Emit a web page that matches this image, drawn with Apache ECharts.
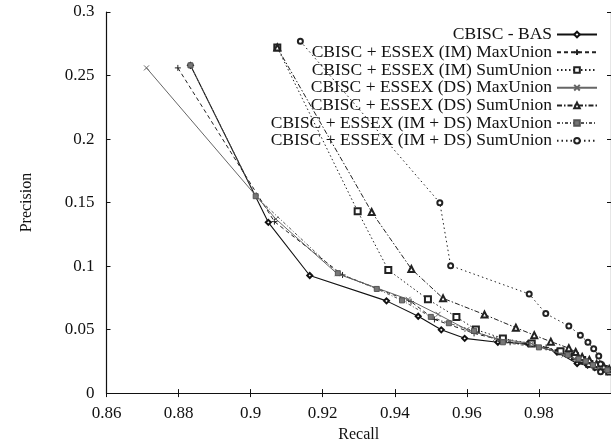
<!DOCTYPE html>
<html>
<head>
<meta charset="utf-8">
<script src="https://cdn.jsdelivr.net/npm/echarts@6/dist/echarts.min.js"></script>
<style>html,body{margin:0;padding:0;background:#fff}#c{width:611px;height:448px}</style>
</head>
<body>
<div id="c"></div>
<script>
const seriesNames = [
  'CBISC - BAS',
  'CBISC + ESSEX (IM) MaxUnion',
  'CBISC + ESSEX (IM) SumUnion',
  'CBISC + ESSEX (DS) MaxUnion',
  'CBISC + ESSEX (DS) SumUnion',
  'CBISC + ESSEX (IM + DS) MaxUnion',
  'CBISC + ESSEX (IM + DS) SumUnion'
];
const xTicks = [0.86, 0.88, 0.9, 0.92, 0.94, 0.96, 0.98, 1.0];
const yTicks = [0, 0.05, 0.1, 0.15, 0.2, 0.25, 0.3];

const basData = [[0.8833,0.258],[0.9049,0.1344],[0.9164,0.0926],[0.9377,0.0726],[0.9465,0.0605],[0.9529,0.0498],[0.9594,0.0431],[0.9686,0.040],[0.977,0.039],[0.985,0.0323],[0.9906,0.0233],[0.9935,0.022],[0.9955,0.020],[0.9975,0.018],[0.999,0.017]];
const imMaxData = [[0.8798,0.256],[0.9066,0.135],[0.9255,0.093],[0.9445,0.072],[0.951,0.058],[0.962,0.047],[0.972,0.040],[0.982,0.036],[0.990,0.028],[0.9925,0.025],[0.995,0.022],[0.997,0.020],[0.999,0.018]];
const imSumData = [[0.9074,0.272],[0.9297,0.1431],[0.9382,0.0969],[0.9492,0.0738],[0.9571,0.060],[0.9625,0.050],[0.970,0.043],[0.978,0.039],[0.986,0.033],[0.990,0.029],[0.992,0.026],[0.994,0.023],[0.996,0.021],[0.998,0.019],[0.9995,0.017]];
const dsMaxData = [[0.8711,0.256],[0.9070,0.137],[0.924,0.094],[0.9437,0.0738],[0.952,0.062],[0.960,0.050],[0.968,0.043],[0.978,0.039],[0.987,0.030],[0.990,0.027],[0.993,0.024],[0.9955,0.021],[0.998,0.019]];
const dsSumData = [[0.9074,0.272],[0.9336,0.1425],[0.9446,0.0977],[0.9534,0.0746],[0.9649,0.0618],[0.9736,0.0515],[0.9787,0.0456],[0.9833,0.0405],[0.9883,0.0354],[0.9902,0.0323],[0.992,0.0285],[0.994,0.026],[0.996,0.023],[0.998,0.021],[0.9995,0.019]];
const imdsMaxData = [[0.8833,0.258],[0.9014,0.155],[0.9242,0.0944],[0.935,0.082],[0.942,0.073],[0.950,0.060],[0.955,0.055],[0.962,0.049],[0.970,0.040],[0.980,0.036],[0.988,0.030],[0.991,0.027],[0.993,0.025],[0.995,0.022],[0.997,0.020],[0.999,0.018]];
const imdsSumData = [[0.9138,0.277],[0.9525,0.1498],[0.9555,0.1003],[0.9773,0.078],[0.9819,0.0626],[0.9883,0.0528],[0.9915,0.0456],[0.9936,0.040],[0.9952,0.0349],[0.9966,0.0292],[0.9971,0.023],[0.9971,0.0169]];

const allData = [basData, imMaxData, imSumData, dsMaxData, dsSumData, imdsMaxData, imdsSumData];

const FONT = 'Liberation Serif';
const styles = [
  {line:{color:'#111',width:1.1,type:'solid'}, symbol:'emptyDiamond', size:5},
  {line:{color:'#222',width:1,type:[4,3]}, symbol:'path://M5,0L5,10M0,5L10,5', size:6},
  {line:{color:'#222',width:1,type:[1.5,2.5]}, symbol:'emptyRect', size:6},
  {line:{color:'#666',width:1,type:'solid'}, symbol:'path://M0,0L10,10M10,0L0,10', size:5},
  {line:{color:'#222',width:1,type:[5,2,1.5,2]}, symbol:'emptyTriangle', size:6},
  {line:{color:'#555',width:1,type:[3,2,1,2]}, symbol:'rect', size:5, fill:'#777'},
  {line:{color:'#222',width:1,type:[1.5,3]}, symbol:'emptyCircle', size:5}
];

const series = allData.map((d, i) => {
  const s = styles[i];
  const item = {color: s.fill || s.line.color, borderColor: s.line.color, borderWidth: 1};
  return {
    name: seriesNames[i], type: 'line', data: d,
    symbol: s.symbol, symbolSize: s.size, showAllSymbol: true,
    lineStyle: s.line, itemStyle: item, z: 2 + i, animation: false
  };
});

const legendCenters = [34.5, 52.2, 70, 87.7, 105.4, 123, 140.8];
const legends = seriesNames.map((n, i) => ({
  data: [n], right: 13, top: legendCenters[i] - 9, padding: 0,
  align: 'right', itemWidth: 40, itemHeight: 7, itemGap: 5,
  selectedMode: false,
  textStyle: {fontFamily: FONT, fontSize: 17.5, color: '#111'}
}));

const axisCommon = {
  type: 'value', splitLine: {show: false},
  axisLine: {lineStyle: {color: '#111', width: 1.2}},
  axisTick: {inside: true, length: 4, lineStyle: {color: '#111'}}
};

const chart = echarts.init(document.getElementById('c'), null, {renderer: 'canvas'});
chart.setOption({
  animation: false,
  backgroundColor: '#fff',
  grid: {left: 106.5, right: 0, top: 12, bottom: 46},
  legend: legends,
  xAxis: [
    Object.assign({}, axisCommon, {
      position: 'bottom', min: xTicks[0], max: xTicks[xTicks.length-1], interval: 0.02,
      name: 'Recall', nameLocation: 'middle', nameGap: 30,
      nameTextStyle: {fontFamily: FONT, fontSize: 16, color: '#111'},
      axisLabel: {fontFamily: FONT, fontSize: 17, color: '#111', margin: 12, showMaxLabel: false,
        formatter: v => String(+v.toFixed(2))}
    }),
    Object.assign({}, axisCommon, {
      position: 'top', min: xTicks[0], max: xTicks[xTicks.length-1], interval: 0.02,
      axisLabel: {show: false}
    })
  ],
  yAxis: [
    Object.assign({}, axisCommon, {
      position: 'left', min: yTicks[0], max: yTicks[yTicks.length-1], interval: 0.05,
      name: 'Precision', nameLocation: 'middle', nameGap: 72,
      nameTextStyle: {fontFamily: FONT, fontSize: 16, color: '#111'},
      axisLabel: {fontFamily: FONT, fontSize: 17, color: '#111', margin: 12,
        formatter: v => String(+v.toFixed(2))}
    }),
    Object.assign({}, axisCommon, {
      position: 'right', min: yTicks[0], max: yTicks[yTicks.length-1], interval: 0.05,
      axisLabel: {show: false}
    })
  ],
  series: series
});
</script>
</body>
</html>
